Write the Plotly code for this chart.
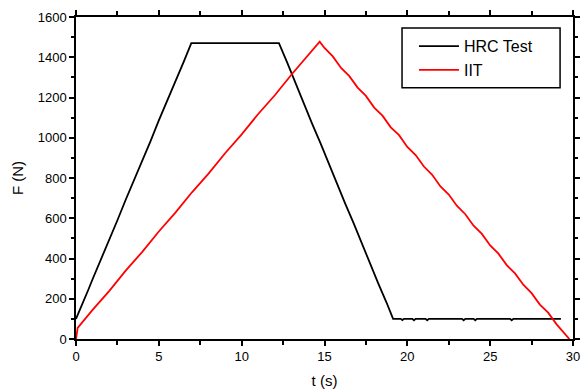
import plotly.graph_objects as go

# HRC Test (black)
hrc_t = [0, 0.25, 0.5, 0.75, 1.0, 1.5, 2.0, 2.5, 3.0, 3.5, 4.0, 4.5, 5.0, 5.5, 6.0, 6.5, 6.96,
         8.0, 10.0, 12.25,
         12.75, 13.25, 13.75, 14.25, 14.75, 15.25, 15.75, 16.25, 16.75, 17.25, 17.75, 18.25, 18.75, 19.14,
         19.6, 19.7, 19.8, 20.3, 20.4, 20.5, 21.1, 21.2, 21.3, 23.3, 23.4, 23.5, 24.0, 24.1, 24.2,
         26.2, 26.3, 26.4, 29.27]
hrc_f = [100, 146, 200, 246, 297, 392, 496, 590, 692, 786, 889, 983, 1086, 1180, 1283, 1377, 1470,
         1470, 1470, 1470,
         1373, 1269, 1174, 1070, 975, 871, 776, 673, 577, 474, 378, 275, 180, 100,
         100, 94, 100, 100, 93, 100, 100, 93, 100, 100, 93, 100, 100, 93, 100,
         100, 93, 100, 100]

# IIT (red)
iit_t = [0, 0.1, 1.0, 2.0, 3.0, 4.0, 5.0, 6.0, 7.0, 8.0, 9.0, 10.0, 11.0, 12.0, 13.0, 14.0, 14.71,
         15.0, 15.5, 16.0, 16.5, 17.0, 17.5, 18.0, 18.5, 19.0, 19.5, 20.0, 20.5, 21.0, 21.5, 22.0,
         22.5, 23.0, 23.5, 24.0, 24.5, 25.0, 25.5, 26.0, 26.5, 27.0, 27.5, 28.0, 28.5, 29.0, 29.5, 29.78]
iit_f = [0, 55, 145, 238, 340, 433, 534, 628, 729, 822, 923, 1017, 1118, 1211, 1313, 1406, 1477,
         1446, 1404, 1347, 1306, 1249, 1208, 1150, 1110, 1052, 1013, 954, 914, 857, 816, 758,
         718, 661, 620, 563, 522, 465, 424, 367, 326, 270, 228, 171, 131, 74, 30, 0]

fig = go.Figure()
fig.add_trace(go.Scatter(x=hrc_t, y=hrc_f, mode="lines", name="HRC Test",
                         line=dict(color="black", width=1.8)))
fig.add_trace(go.Scatter(x=iit_t, y=iit_f, mode="lines", name="IIT",
                         line=dict(color="red", width=1.8)))

font_family = "Liberation Sans, Arial, sans-serif"
axis_common = dict(showline=True, linecolor="black", linewidth=1.5, mirror="ticks",
                   ticks="outside", ticklen=5, tickwidth=1.5, tickcolor="black",
                   showgrid=False, zeroline=False, automargin=False,
                   tickfont=dict(family=font_family, size=13, color="black"))

fig.update_xaxes(range=[0, 30], dtick=5, tick0=0,
                 minor=dict(dtick=2.5, ticks="outside", ticklen=4, tickwidth=1.5, tickcolor="black"),
                 title=dict(text="t (s)", font=dict(family=font_family, size=15, color="black"), standoff=14),
                 **axis_common)
fig.update_yaxes(range=[0, 1600], dtick=200, tick0=0,
                 minor=dict(dtick=100, ticks="outside", ticklen=3, tickwidth=1.5, tickcolor="black"),
                 title=dict(text="F (N)", font=dict(family=font_family, size=15, color="black"), standoff=10),
                 **axis_common)

# legend frame
fig.add_shape(type="rect", xref="paper", yref="paper",
              x0=0.656, x1=0.974, y0=0.780, y1=0.966,
              line=dict(color="black", width=1.5), fillcolor="white", layer="above")

fig.update_layout(
    width=583, height=389,
    margin=dict(l=76, r=10, t=17, b=50),
    plot_bgcolor="white", paper_bgcolor="white",
    font=dict(family=font_family, color="black"),
    legend=dict(x=0.680, y=0.962, xanchor="left", yanchor="top",
                borderwidth=0, bgcolor="rgba(0,0,0,0)",
                font=dict(family=font_family, size=16, color="black"),
                tracegroupgap=0, itemwidth=40),
)

fig.write_html("out.html")
